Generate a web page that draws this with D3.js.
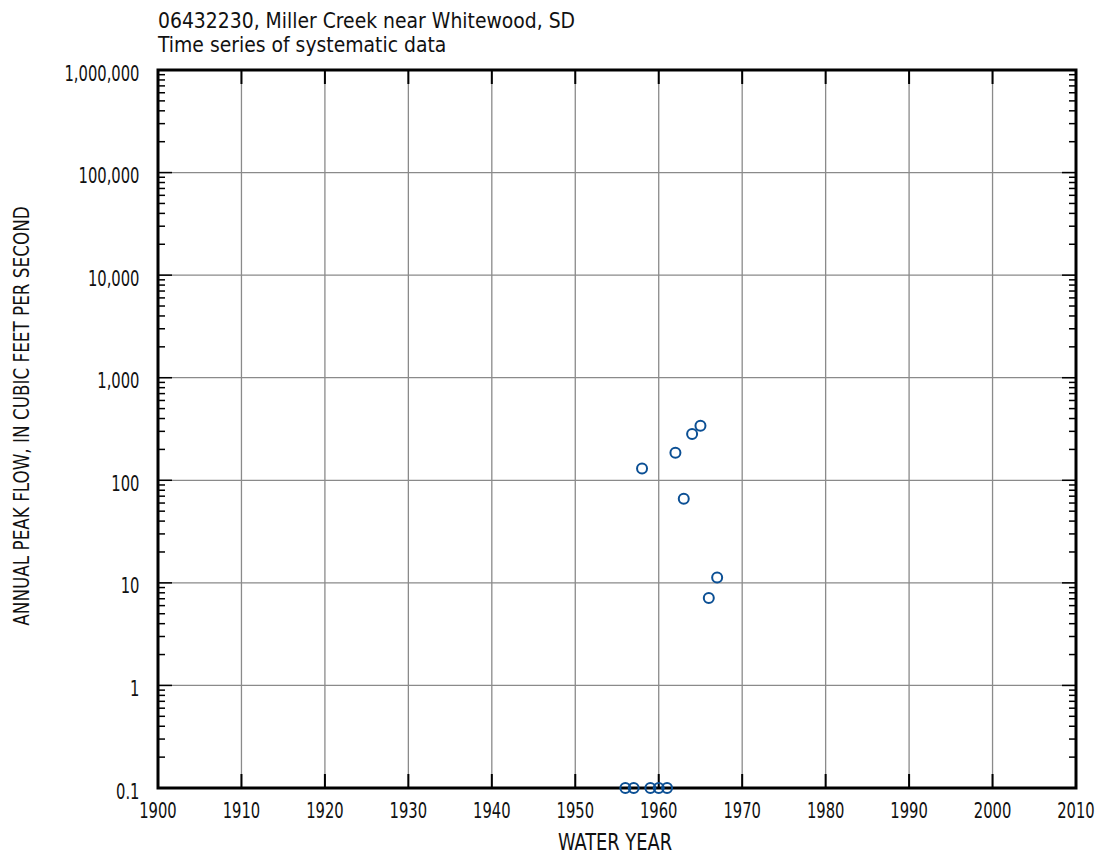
<!DOCTYPE html>
<html><head><meta charset="utf-8">
<script src="https://cdn.jsdelivr.net/npm/d3@7"></script>
<style>
body{margin:0;background:#fff;}
text{font-family:"DejaVu Sans Condensed","Liberation Sans Narrow",sans-serif;fill:#111;}
</style></head><body>
<svg id="c" width="1101" height="854"></svg>
<script>
const titleLines = ["06432230, Miller Creek near Whitewood, SD", "Time series of systematic data"];
const xLabel = "WATER YEAR";
const yLabel = "ANNUAL PEAK FLOW, IN CUBIC FEET PER SECOND";
const years = [1956, 1957, 1958, 1959, 1960, 1961, 1962, 1963, 1964, 1965, 1966, 1967];
const peaks = [0.1, 0.1, 130, 0.1, 0.1, 0.1, 186, 66, 283, 341, 7.1, 11.3];
const xTicks = [1900,1910,1920,1930,1940,1950,1960,1970,1980,1990,2000,2010];
const yTicks = [0.1,1,10,100,1000,10000,100000,1000000];
const yTickLabels = ["0.1","1","10","100","1,000","10,000","100,000","1,000,000"];

const m = {l:158, r:1076, t:70, b:788};
const svg = d3.select("#c");
const x = d3.scaleLinear().domain([1900,2010]).range([m.l,m.r]);
const y = d3.scaleLog().domain([0.1,1e6]).range([m.b,m.t]);

// grid
svg.append("g").selectAll("line").data(xTicks.slice(1,-1)).join("line")
  .attr("x1",d=>x(d)).attr("x2",d=>x(d)).attr("y1",m.t).attr("y2",m.b)
  .attr("stroke","#8a8a8a").attr("stroke-width",1.3);
svg.append("g").selectAll("line").data(yTicks.slice(1,-1)).join("line")
  .attr("y1",d=>y(d)).attr("y2",d=>y(d)).attr("x1",m.l).attr("x2",m.r)
  .attr("stroke","#8a8a8a").attr("stroke-width",1.3);

// minor ticks
const minors=[];
for(let e=-1;e<6;e++){for(let k=2;k<10;k++){minors.push(k*Math.pow(10,e));}}
const tg = svg.append("g").attr("stroke","#000");
tg.selectAll(".ml").data(minors).join("line")
  .attr("x1",m.l).attr("x2",m.l+7).attr("y1",d=>y(d)).attr("y2",d=>y(d)).attr("stroke-width",1.5);
tg.selectAll(".mr").data(minors).join("line")
  .attr("x1",m.r).attr("x2",m.r-7).attr("y1",d=>y(d)).attr("y2",d=>y(d)).attr("stroke-width",1.5);
tg.selectAll(".Ml").data(yTicks).join("line")
  .attr("x1",m.l).attr("x2",m.l+14).attr("y1",d=>y(d)).attr("y2",d=>y(d)).attr("stroke-width",1.5);
tg.selectAll(".Mr").data(yTicks).join("line")
  .attr("x1",m.r).attr("x2",m.r-14).attr("y1",d=>y(d)).attr("y2",d=>y(d)).attr("stroke-width",1.5);
tg.selectAll(".xb").data(xTicks).join("line")
  .attr("x1",d=>x(d)).attr("x2",d=>x(d)).attr("y1",m.b).attr("y2",m.b-14).attr("stroke-width",2);
tg.selectAll(".xt").data(xTicks).join("line")
  .attr("x1",d=>x(d)).attr("x2",d=>x(d)).attr("y1",m.t).attr("y2",m.t+14).attr("stroke-width",2);

// frame
svg.append("rect").attr("x",m.l).attr("y",m.t).attr("width",m.r-m.l).attr("height",m.b-m.t)
  .attr("fill","none").attr("stroke","#000").attr("stroke-width",3);

// labels (condensed by horizontal scaling)
const tickSize = 20.5, tickSx = 0.8;
svg.append("g").selectAll("text").data(xTicks).join("text")
  .attr("transform",d=>`translate(${x(d)},818) scale(${tickSx},1)`)
  .attr("text-anchor","middle").attr("font-size",tickSize).text(d=>d);
svg.append("g").selectAll("text").data(yTicks).join("text")
  .attr("transform",d=>`translate(${m.l-18.5},${y(d)+10.5}) scale(${tickSx},1)`)
  .attr("text-anchor","end").attr("font-size",tickSize)
  .text((d,i)=>yTickLabels[i]);
svg.append("text").attr("transform",`translate(${(m.l+m.r)/2-2},850) scale(0.88,1)`)
  .attr("text-anchor","middle").attr("font-size",22.5).text(xLabel);
svg.append("text").attr("transform",`translate(29,416) rotate(-90) scale(0.85,1)`)
  .attr("text-anchor","middle").attr("font-size",22).text(yLabel);
svg.selectAll(".title").data(titleLines).join("text")
  .attr("transform",(d,i)=>`translate(${m.l},${28+i*24}) scale(1.02,1)`)
  .attr("font-size",20.5).text(d=>d);

// points
svg.append("g").selectAll("circle").data(years).join("circle")
  .attr("cx",d=>x(d)).attr("cy",(d,i)=>y(peaks[i])).attr("r",5)
  .attr("fill","none").attr("stroke","#0b4f94").attr("stroke-width",2);
</script></body></html>
